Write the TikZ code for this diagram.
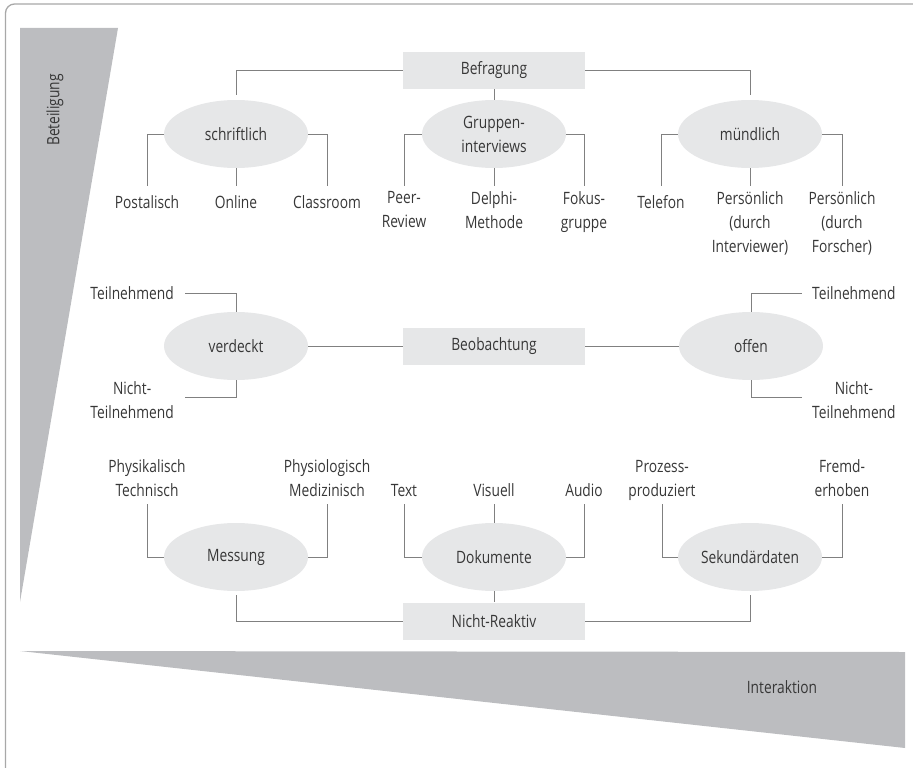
\documentclass[tikz,border=0pt]{standalone}
\usepackage{fontspec}
\setmainfont{Open Sans}[FakeStretch=0.81]
\usepackage{tikz}
\usetikzlibrary{shapes.geometric,calc,positioning}
\definecolor{wedgegray}{RGB}{188,189,192}
\definecolor{bubblegray}{RGB}{230,231,232}
\definecolor{linegray}{RGB}{128,128,128}
\definecolor{framegray}{RGB}{168,168,168}
\definecolor{ink}{RGB}{55,55,55}
\tikzset{%
  method/.style={rectangle, fill=bubblegray, minimum width=182pt, minimum height=37pt, inner sep=0pt},
  kind/.style={ellipse, fill=bubblegray, minimum width=144pt, minimum height=68pt, inner sep=0pt, align=center},
  leaf/.style={align=center, inner sep=0pt, execute at begin node=\strut, execute at end node=\strut},
  side/.style={align=center, inner sep=0pt},
  wire/.style={draw=linegray, line width=0.9pt},
}

\begin{document}
\begin{tikzpicture}[x=1pt, y=-1pt, every node/.style={font=\fontsize{17}{24}\selectfont, text=ink}]
\useasboundingbox (0,0) rectangle (913,768);
\clip (0,0) rectangle (913,768);
\draw[framegray, line width=1.3pt, rounded corners=9pt] (5.5,4) rectangle (950,800);

% Keile
\fill[wedgegray] (20,28) -- (118,28) -- (20,602) -- cycle;
\fill[wedgegray] (20,651) -- (905,652) -- (905,748) -- cycle;
\node[rotate=90] (beteil) at (55,110) {Beteiligung};
\node (interakt) at (782,687) {Interaktion};

% Befragung
\node[method] (befr) at (494,70.5) {Befragung};
\node[kind] (schrift) at (236,134) {schriftlich};
\node[kind] (gruppe) at (494,134) {Gruppen-\\interviews};
\node[kind] (muendl) at (750,134) {mündlich};

\node[leaf, anchor=north] (post) at (147,191) {Postalisch};
\node[leaf, anchor=north] (onl) at (236,191) {Online};
\node[leaf, anchor=north] (class) at (327,191) {Classroom};
\node[leaf, anchor=north] (peer) at (404,191) {Peer-\\Review};
\node[leaf, anchor=north] (delphi) at (494,191) {Delphi-\\Methode};
\node[leaf, anchor=north] (fokus) at (584,191) {Fokus-\\gruppe};
\node[leaf, anchor=north] (tel) at (661,191) {Telefon};
\node[leaf, anchor=north] (persint) at (750,191) {Persönlich\\(durch\\Interviewer)};
\node[leaf, anchor=north] (persfor) at (842,191) {Persönlich\\(durch\\Forscher)};

\draw[wire, shorten >=5pt] (befr.west) -| (schrift.north);
\draw[wire] (befr.south) -- (gruppe.north);
\draw[wire, shorten >=5pt] (befr.east) -| (muendl.north);

\draw[wire, shorten >=5pt] (schrift.west) -| (post.north);
\draw[wire, shorten >=5pt] (schrift.south) -- (onl.north);
\draw[wire, shorten >=5pt] (schrift.east) -| (class.north);
\draw[wire, shorten >=5pt] (gruppe.west) -| (peer.north);
\draw[wire, shorten >=5pt] (gruppe.south) -- (delphi.north);
\draw[wire, shorten >=5pt] (gruppe.east) -| (fokus.north);
\draw[wire, shorten >=5pt] (muendl.west) -| (tel.north);
\draw[wire, shorten >=5pt] (muendl.south) -- (persint.north);
\draw[wire, shorten >=5pt] (muendl.east) -| (persfor.north);

% Beobachtung
\node[method] (beob) at (494,346) {Beobachtung};
\node[kind] (verd) at (236,346) {verdeckt};
\node[kind] (offen) at (751,346) {offen};

\node[side, anchor=east] (vteil) at (174,293.5) {Teilnehmend};
\node[side, anchor=east] (vnteil) at (174,400) {Nicht-\\Teilnehmend};
\node[side, anchor=west] (oteil) at (812,293.5) {Teilnehmend};
\node[side, anchor=west] (onteil) at (812,400) {Nicht-\\Teilnehmend};

\draw[wire] (verd) -- (beob);
\draw[wire] (beob) -- (offen);
\draw[wire, shorten >=11pt] (verd.north) |- (vteil.east);
\draw[wire, shorten >=11pt] (verd.south) |- ([yshift=3pt]vnteil.east);
\draw[wire, shorten >=10pt] (offen.north) |- (oteil.west);
\draw[wire, shorten >=10pt] (offen.south) |- ([yshift=3pt]onteil.west);

% Nicht-Reaktiv
\node[method] (nreakt) at (494,621) {Nicht-Reaktiv};
\node[kind] (mess) at (236,557) {Messung};
\node[kind] (doku) at (494,557) {Dokumente};
\node[kind] (sekund) at (750,557) {Sekundärdaten};

\node[leaf, anchor=south] (phys) at (147,504) {Physikalisch\\Technisch};
\node[leaf, anchor=south] (physio) at (327,504) {Physiologisch\\Medizinisch};
\node[leaf, anchor=south] (txt) at (404,504) {Text};
\node[leaf, anchor=south] (visu) at (494,504) {Visuell};
\node[leaf, anchor=south] (audio) at (584,504) {Audio};
\node[leaf, anchor=south] (proz) at (662,504) {Prozess-\\produziert};
\node[leaf, anchor=south] (fremd) at (842,504) {Fremd-\\erhoben};

\draw[wire] (phys.south) |- (mess.west);
\draw[wire] (physio.south) |- (mess.east);
\draw[wire] (txt.south) |- (doku.west);
\draw[wire] (visu.south) -- (doku.north);
\draw[wire] (audio.south) |- (doku.east);
\draw[wire] (proz.south) |- (sekund.west);
\draw[wire] (fremd.south) |- (sekund.east);
\draw[wire, shorten <=4pt] (mess.south) |- (nreakt.west);
\draw[wire] (doku.south) -- (nreakt.north);
\draw[wire, shorten <=4pt] (sekund.south) |- (nreakt.east);

\end{tikzpicture}
\end{document}
